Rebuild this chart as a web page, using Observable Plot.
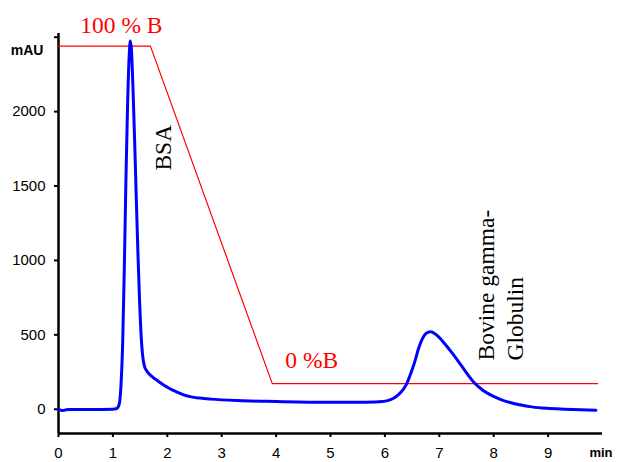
<!DOCTYPE html>
<html>
<head>
<meta charset="utf-8">
<script src="https://cdn.jsdelivr.net/npm/d3@7"></script>
<script src="https://cdn.jsdelivr.net/npm/@observablehq/plot@0.6"></script>
<style>
  html, body { margin: 0; padding: 0; background: #fff; }
</style>
</head>
<body>
<div id="chart"></div>
<script>
// Chromatogram (UV absorbance, mAU) vs time (min)
const time = [0.00, 0.04, 0.08, 0.14, 0.2, 0.4, 0.6, 0.8, 1.0, 1.06, 1.09, 1.12, 1.15, 1.18, 1.21, 1.24, 1.27, 1.30, 1.32, 1.34, 1.37, 1.40, 1.43, 1.46, 1.49, 1.52, 1.55, 1.58, 1.62, 1.67, 1.74, 1.82, 1.91, 2.0, 2.1, 2.2, 2.3, 2.42, 2.6, 2.8, 3.3, 4.0, 4.95, 5.5, 5.8, 5.95, 6.05, 6.15, 6.25, 6.33, 6.40, 6.47, 6.55, 6.62, 6.69, 6.76, 6.84, 6.92, 7.00, 7.10, 7.22, 7.34, 7.48, 7.63, 7.80, 7.95, 8.10, 8.30, 8.48, 8.70, 8.97, 9.3, 9.6, 9.88];
const absorbance = [0, -6, -9, -4, -2, -2, -1, -1, 0, 3, 12, 40, 170, 450, 950, 1550, 2050, 2380, 2475, 2420, 2150, 1800, 1415, 1050, 730, 490, 350, 290, 258, 236, 213, 192, 168, 148, 128, 112, 97, 85, 75, 68, 58, 52, 47, 47, 49, 52, 58, 72, 98, 130, 170, 235, 320, 410, 475, 510, 520, 508, 482, 440, 385, 327, 255, 183, 128, 95, 70, 45, 30, 16, 6, 0, -4, -6];

// Gradient profile (%B trace as drawn on the mAU axis)
const gradientTime = [0, 1.69, 3.93, 9.91];
const gradientLevel = [2440, 2440, 172, 172];

// Axis ticks
const xTicks = [0, 1, 2, 3, 4, 5, 6, 7, 8, 9];
const yTicks = [0, 500, 1000, 1500, 2000, 2500];

const chrom = time.map((t, i) => ({t, v: absorbance[i]}));
const gradient = gradientTime.map((t, i) => ({t, v: gradientLevel[i]}));

const serif = "'Liberation Serif', 'Times New Roman', serif";
const sans = "'Liberation Sans', Arial, sans-serif";

const plot = Plot.plot({
  width: 617,
  height: 462,
  marginLeft: 58,
  marginRight: 15,
  marginTop: 33,
  marginBottom: 29,
  style: {fontFamily: sans, fontSize: "15px", background: "#fff", color: "#000", overflow: "visible"},
  x: {domain: [0, 10]},
  y: {domain: [-163, 2525]},
  marks: [
    Plot.axisY({ticks: yTicks, tickFormat: d => d === 2500 ? "" : String(d), tickSize: 4, tickPadding: 9, strokeWidth: 2, fontSize: 15, label: null}),
    Plot.axisX({ticks: xTicks, tickFormat: d => String(d), tickSize: 4, tickPadding: 10, strokeWidth: 2, fontSize: 15, label: null}),
    Plot.ruleX([0], {strokeWidth: 2.5, stroke: "#000"}),
    Plot.ruleY([-163], {strokeWidth: 2.5, stroke: "#000"}),
    Plot.line(gradient, {x: "t", y: "v", stroke: "#ff0000", strokeWidth: 1.2}),
    Plot.line(chrom, {x: "t", y: "v", stroke: "#0000ff", strokeWidth: 3, curve: "monotone-x"}),
    Plot.text(["100 % B"], {x: 0.40, y: 2531, text: d => d, fill: "#ff0000", fontFamily: serif, fontSize: 23.5, textAnchor: "start", lineAnchor: "bottom"}),
    Plot.text(["0 %B"], {x: 4.17, y: 280, text: d => d, fill: "#ff0000", fontFamily: serif, fontSize: 23.5, textAnchor: "start", lineAnchor: "bottom"}),
    Plot.text(["BSA"], {x: 2.06, y: 1604, text: d => d, fill: "#000", fontFamily: serif, fontSize: 23.5, rotate: -90, textAnchor: "start", lineAnchor: "bottom"}),
    Plot.text(["Bovine gamma-\nGlobulin"], {x: 8.53, y: 328, text: d => d, fill: "#000", fontFamily: serif, fontSize: 23.5, rotate: -90, textAnchor: "start", lineAnchor: "bottom", lineHeight: 1.22}),
    Plot.text(["mAU"], {x: -0.276, y: 2410, text: d => d, fill: "#000", fontFamily: sans, fontWeight: "bold", fontSize: 14, textAnchor: "end", lineAnchor: "middle"}),
    Plot.text(["min"], {x: 9.76, y: -322, text: d => d, fill: "#000", fontFamily: sans, fontWeight: "bold", fontSize: 13, textAnchor: "start", lineAnchor: "bottom"})
  ]
});
document.getElementById("chart").appendChild(plot);
</script>
</body>
</html>
